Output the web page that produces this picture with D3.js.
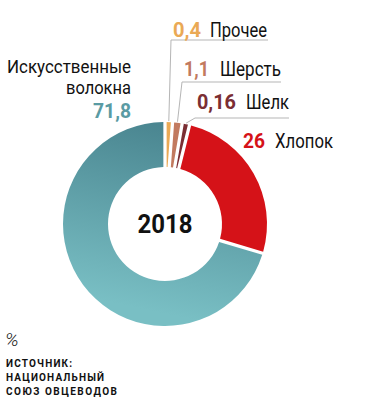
<!DOCTYPE html>
<html>
<head>
<meta charset="utf-8">
<script src="https://cdn.jsdelivr.net/npm/d3@7"></script>
<style>
  html, body { margin: 0; padding: 0; background: #fff; }
  svg { display: block; }
  text { font-family: Roboto, "DejaVu Sans", sans-serif; }
</style>
</head>
<body>
<div id="chart"></div>
<script>
'use strict';

// fibre shares, %, 2018
var categories = ['Прочее', 'Шерсть', 'Шелк', 'Хлопок', 'Искусственные волокна'];
var values = [0.4, 1.1, 0.16, 26, 71.8];
var valueLabels = ['0,4', '1,1', '0,16', '26', '71,8'];
var colors = ['#eaa955', '#c27a5f', '#7b2e33', '#d51218', 'url(#tealGrad)'];
var year = '2018';
var sourceLines = ['ИСТОЧНИК:', 'НАЦИОНАЛЬНЫЙ', 'СОЮЗ ОВЦЕВОДОВ'];

(function () {
  var width = 390, height = 403;
  var cx = 165, cy = 224, outerR = 102, innerR = 57;

  var svg = d3.select('#chart').append('svg')
    .attr('width', width)
    .attr('height', height);

  // condensed look: squeeze text into the width it takes in print
  function label(parent, x, y, str, w, opts) {
    opts = opts || {};
    return parent.append('text')
      .attr('x', x)
      .attr('y', y)
      .attr('text-anchor', opts.anchor || 'start')
      .attr('font-size', opts.size || 20)
      .attr('font-weight', opts.weight || 'normal')
      .attr('fill', opts.fill || '#111')
      .attr('textLength', w)
      .attr('lengthAdjust', opts.adjust || 'spacingAndGlyphs')
      .text(str);
  }

  var defs = svg.append('defs');
  var grad = defs.append('linearGradient')
    .attr('id', 'tealGrad')
    .attr('gradientUnits', 'userSpaceOnUse')
    .attr('x1', 25).attr('y1', -outerR)
    .attr('x2', -15).attr('y2', outerR * 0.85);
  grad.append('stop').attr('offset', 0).attr('stop-color', '#48838e');
  grad.append('stop').attr('offset', 1).attr('stop-color', '#79bfc4');

  // tiny slices get a minimum visible width, as in the print original
  var pie = d3.pie()
    .sort(null)
    .value(function (d) { return Math.max(d, 0.75); })
    .padAngle(0.028);

  var arcs = pie(values);
  var arc = d3.arc().innerRadius(innerR).outerRadius(outerR);

  var g = svg.append('g').attr('transform', 'translate(' + cx + ',' + cy + ')');

  g.selectAll('path')
    .data(arcs)
    .join('path')
    .attr('d', arc)
    .attr('fill', function (d, i) { return colors[i]; });

  label(g, 0, 9, year, 55, { anchor: 'middle', size: 25, weight: 'bold' });

  // leader callouts for the three small slices
  var callouts = [
    { i: 0, lineY: 40, textX: 173, baseY: 37, endX: 268, vw: 28, nx: 210, nw: 57 },
    { i: 1, lineY: 82, textX: 184, baseY: 76, endX: 281, vw: 25, nx: 220, nw: 61 },
    { i: 2, lineY: 118, textX: 197, baseY: 109, endX: 289, vw: 39, nx: 246, nw: 43 }
  ];

  callouts.forEach(function (c) {
    var a = arcs[c.i];
    var mid = (a.startAngle + a.endAngle) / 2;
    var px = cx + Math.sin(mid) * (outerR + 1);
    var py = cy - Math.cos(mid) * (outerR + 1);
    var startX = c.textX - 2;
    svg.append('polyline')
      .attr('points', [[px, py], [startX, c.lineY], [c.endX, c.lineY]].map(function (p) { return p.join(','); }).join(' '))
      .attr('fill', 'none')
      .attr('stroke', '#b5b5b5')
      .attr('stroke-width', 1);

    label(svg, c.textX, c.baseY, valueLabels[c.i], c.vw, { weight: 'bold', fill: colors[c.i] });
    label(svg, c.nx, c.baseY, categories[c.i], c.nw);
  });

  // cotton label
  label(svg, 243, 148, valueLabels[3], 22, { weight: 'bold', fill: colors[3] });
  label(svg, 275, 148, categories[3], 58);

  // synthetic fibre label
  var words = categories[4].split(' ');
  label(svg, 131, 73, words[0], 124, { anchor: 'end', size: 19 });
  label(svg, 131, 94, words[1], 65, { anchor: 'end', size: 19 });
  label(svg, 131, 118, valueLabels[4], 38, { anchor: 'end', size: 21, weight: 'bold', fill: '#5a9ba3' });

  svg.append('text')
    .attr('x', 5)
    .attr('y', 346)
    .attr('font-size', 19)
    .attr('font-style', 'italic')
    .attr('font-weight', 300)
    .attr('fill', '#222')
    .text('%');

  var srcW = [66, 98, 111];
  sourceLines.forEach(function (s, i) {
    label(svg, 6, 367 + i * 14.2, s, srcW[i], { size: 10, weight: 'bold', adjust: 'spacing' });
  });
})();
</script>
</body>
</html>
